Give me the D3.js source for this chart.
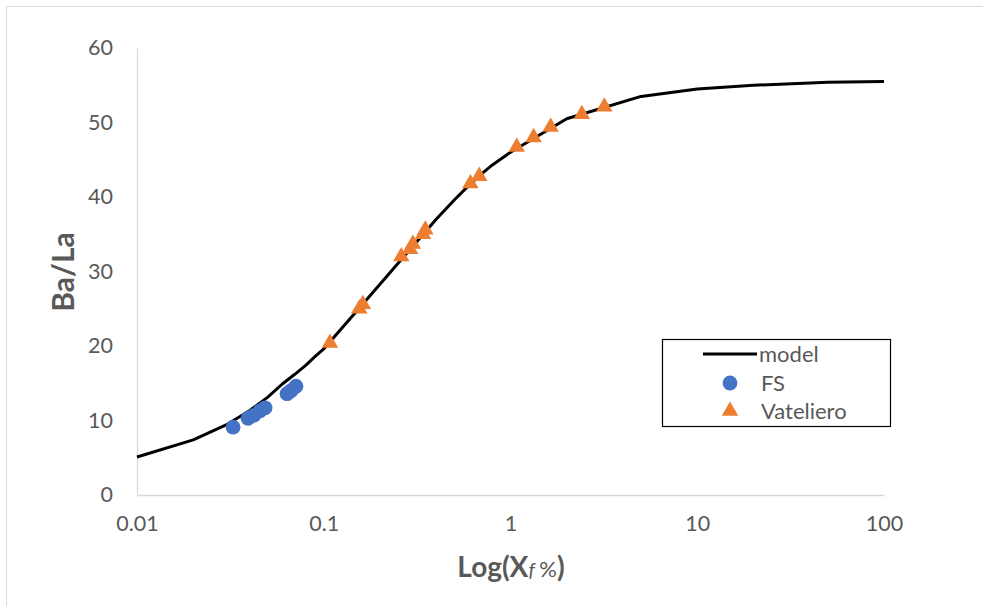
<!DOCTYPE html>
<html>
<head>
<meta charset="utf-8">
<script src="https://cdn.jsdelivr.net/npm/d3@7"></script>
<style>
  html, body { margin: 0; padding: 0; background: #fff; }
  svg { display: block; font-family: Lato, "Open Sans", sans-serif; }
</style>
</head>
<body>
<svg id="chart" width="983" height="606"></svg>
<script>
// ---- data ----
const modelX = [0.01, 0.02, 0.03, 0.04, 0.05, 0.06, 0.07, 0.08, 0.09, 0.1, 0.2, 0.3, 0.4, 0.5, 0.6, 0.7, 0.8, 0.9, 1, 2, 5, 10, 20, 50, 100];
const modelY = [5.1, 7.4, 9.4, 11.3, 13.1, 14.9, 16.2, 17.4, 18.6, 19.6, 28.3, 33.4, 37.0, 39.6, 41.6, 43.1, 44.3, 45.2, 46.0, 50.5, 53.5, 54.5, 55.0, 55.4, 55.5];
const fsX = [0.0327, 0.0393, 0.0423, 0.0456, 0.0485, 0.0636, 0.0668, 0.071];
const fsY = [9.1, 10.3, 10.7, 11.3, 11.7, 13.6, 14.0, 14.6];
const vatX = [0.108, 0.155, 0.162, 0.26, 0.29, 0.30, 0.34, 0.35, 0.61, 0.68, 1.08, 1.33, 1.64, 2.41, 3.18];
const vatY = [20.4, 25.0, 25.6, 32.0, 33.0, 33.7, 35.0, 35.6, 41.8, 42.8, 46.7, 48.0, 49.4, 51.1, 52.1];
const xTicks = [0.01, 0.1, 1, 10, 100];
const xTickLabels = ["0.01", "0.1", "1", "10", "100"];
const yTicks = [0, 10, 20, 30, 40, 50, 60];
const seriesNames = ["model", "FS", "Vateliero"];

// ---- layout ----
const svg = d3.select("#chart");
const mLeft = 137, mRight = 884, mTop = 48, mBottom = 495;
const x = d3.scaleLog().domain([0.01, 100]).range([mLeft, mRight]);
const y = d3.scaleLinear().domain([0, 60]).range([mBottom, mTop]);
const textGray = "#595959";

// outer chart border
svg.append("rect").attr("x", 6.5).attr("y", 6.5).attr("width", 990).attr("height", 620)
  .attr("fill", "none").attr("stroke", "#d9d9d9").attr("stroke-width", 1);

// axes
const yAxis = d3.axisLeft(y).tickValues(yTicks).tickSize(0).tickPadding(24);
const gy = svg.append("g").attr("transform", `translate(${mLeft},0)`).call(yAxis);
gy.select(".domain").attr("stroke", "#d9d9d9").attr("stroke-width", 1.3);
gy.selectAll("text").attr("fill", textGray).style("font-size", "21.5px").style("font-family", "Lato, sans-serif");

const xAxis = d3.axisBottom(x).tickValues(xTicks).tickFormat((d, i) => xTickLabels[i]).tickSize(0).tickPadding(21);
const gx = svg.append("g").attr("transform", `translate(0,${mBottom})`).call(xAxis);
gx.select(".domain").attr("stroke", "#d9d9d9").attr("stroke-width", 1.3);
gx.selectAll("text").attr("fill", textGray).style("font-size", "21.5px").style("font-family", "Lato, sans-serif");

// model line
const line = d3.line().x(d => x(d[0])).y(d => y(d[1]));
svg.append("path").datum(modelX.map((v, i) => [v, modelY[i]]))
  .attr("d", line).attr("fill", "none").attr("stroke", "#000").attr("stroke-width", 3)
  .attr("stroke-linejoin", "round");

// FS points
svg.append("g").selectAll("circle").data(fsX.map((v, i) => [v, fsY[i]])).join("circle")
  .attr("cx", d => x(d[0])).attr("cy", d => y(d[1])).attr("r", 7.4).attr("fill", "#4472C4");

// Vateliero points
const tri = d3.symbol().type(d3.symbolTriangle).size(118);
svg.append("g").selectAll("path").data(vatX.map((v, i) => [v, vatY[i]])).join("path")
  .attr("d", tri).attr("transform", d => `translate(${x(d[0])},${y(d[1])})`).attr("fill", "#ED7D31");

// axis titles
svg.append("text").attr("transform", "translate(74,272) rotate(-90)")
  .attr("text-anchor", "middle").attr("fill", textGray)
  .style("font-size", "30px").style("font-weight", "bold").text("Ba/La");

const xt = svg.append("text").attr("x", 511).attr("y", 577).attr("text-anchor", "middle")
  .attr("fill", textGray).style("font-size", "28px").style("font-weight", "bold");
xt.append("tspan").text("Log(X");
xt.append("tspan").style("font-style", "italic").style("font-size", "20px").style("font-weight", "normal").text("f ");
xt.append("tspan").style("font-size", "22px").style("font-weight", "normal").text("%");
xt.append("tspan").text(")");

// legend
const lg = svg.append("g");
lg.append("rect").attr("x", 662.5).attr("y", 339.5).attr("width", 228).attr("height", 87)
  .attr("fill", "#fff").attr("stroke", "#000").attr("stroke-width", 1.2);
lg.append("line").attr("x1", 703).attr("x2", 757).attr("y1", 354).attr("y2", 354)
  .attr("stroke", "#000").attr("stroke-width", 3);
lg.append("circle").attr("cx", 730).attr("cy", 383).attr("r", 7.4).attr("fill", "#4472C4");
lg.append("path").attr("d", tri).attr("transform", "translate(730,411)").attr("fill", "#ED7D31");
const ly = [354, 383, 411];
lg.selectAll("text.l").data(seriesNames).join("text").attr("class", "l")
  .attr("x", (d, i) => i === 0 ? 759 : 761).attr("y", (d, i) => ly[i]).attr("dy", "0.35em")
  .attr("fill", textGray).style("font-size", "22px").text(d => d);
</script>
</body>
</html>
